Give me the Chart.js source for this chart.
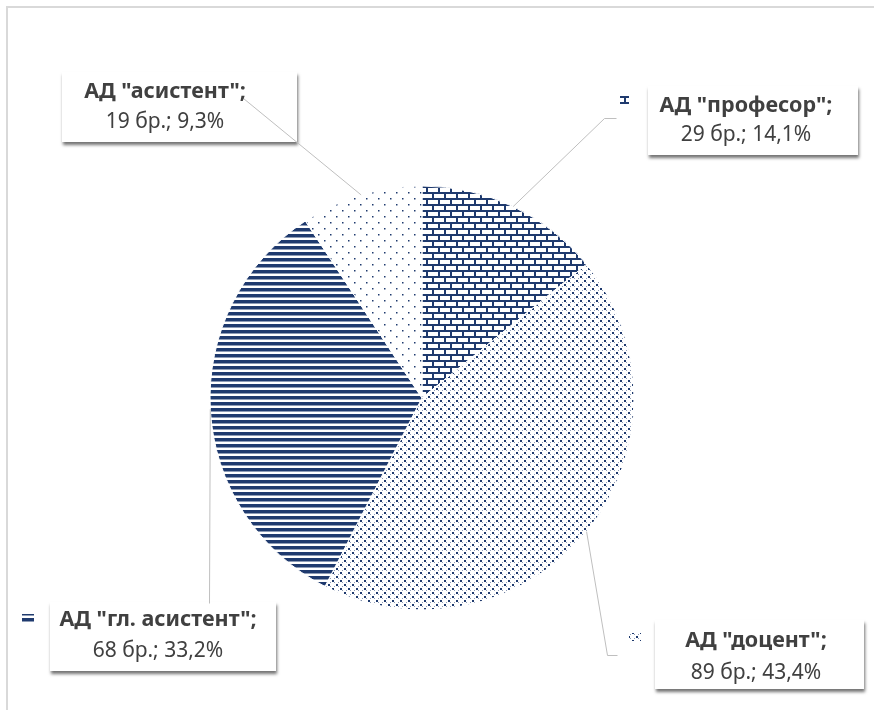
<!DOCTYPE html>
<html>
<head>
<meta charset="utf-8">
<script src="https://cdn.jsdelivr.net/npm/chart.js@4.4.1/dist/chart.umd.min.js"></script>
<style>
  html, body { margin: 0; padding: 0; background: #fff; }
  #wrap { width: 874px; height: 710px; position: relative; }
</style>
</head>
<body>
<div id="wrap"><canvas id="pieChart" width="874" height="710"></canvas></div>
<script>
// Data (clockwise from 12 o'clock)
const categories = ['АД "професор"', 'АД "доцент"', 'АД "гл. асистент"', 'АД "асистент"'];
const counts = [29, 89, 68, 19];
const unitLabel = "бр.";

// Label layout (boxes, text centres, legend keys, leader line ends)
const labelBoxes = [
  { x: 648, y: 86, w: 210, h: 69 },
  { x: 655, y: 620, w: 209, h: 69 },
  { x: 50, y: 602, w: 226, h: 69 },
  { x: 62, y: 72, w: 235, h: 70 },
];
const labelText = [
  { cx: 746, y1: 106, y2: 135 },
  { cx: 756, y1: 641, y2: 673 },
  { cx: 158, y1: 620, y2: 651 },
  { cx: 165, y1: 92, y2: 122 },
];
const labelKeys = [
  [620, 96, 9, 8],
  [629, 633, 12, 8],
  [22, 614, 12, 10],
  [34, 88, 6, 7],
];
const leaderEnds = [
  [[604, 118], [616, 118]],
  [[607, 655], [617, 655]],
  [[209, 603]],
  [[243, 98]],
];

const NAVY = "#1f3a6e";
const TEXT = "#404040";
const ctx = document.getElementById("pieChart").getContext("2d");

// Helper: build a repeating fill pattern from a small tile
function makePattern(w, h, draw) {
  const c = document.createElement("canvas");
  c.width = w;
  c.height = h;
  const g = c.getContext("2d");
  g.fillStyle = "#fff";
  g.fillRect(0, 0, w, h);
  g.fillStyle = NAVY;
  draw(g);
  return ctx.createPattern(c, "repeat");
}

const brick = makePattern(12, 12, (g) => {
  g.fillRect(0, 0, 12, 2);
  g.fillRect(0, 6, 12, 2);
  g.fillRect(0, 0, 2, 6);
  g.fillRect(6, 6, 2, 6);
});
const dottedDiamond = makePattern(8, 8, (g) => {
  g.fillRect(0, 0, 2, 2);
  g.fillRect(4, 4, 2, 2);
  g.globalAlpha = 0.5;
  g.fillRect(2, 2, 1, 1);
  g.fillRect(6, 2, 1, 1);
  g.fillRect(2, 6, 1, 1);
  g.fillRect(6, 6, 1, 1);
});
const stripes = makePattern(6, 6, (g) => {
  g.fillRect(0, 0, 6, 3.5);
});
const sparseDots = makePattern(12, 12, (g) => {
  g.fillRect(0, 0, 1.5, 1.5);
  g.fillRect(6, 6, 1.5, 1.5);
});
const fills = [brick, dottedDiamond, stripes, sparseDots];

const total = counts.reduce((a, b) => a + b, 0);
function pct(v) {
  return ((v / total) * 100).toFixed(1).replace(".", ",") + "%";
}

// Frame + data labels with leader lines
const labelPlugin = {
  id: "labelPlugin",
  beforeDraw(chart) {
    const c = chart.ctx;
    c.save();
    c.fillStyle = "#d9d9d9";
    c.fillRect(6, 6, chart.width - 6, 2);
    c.fillRect(6, 6, 2, chart.height - 6);
    c.restore();
  },
  afterDatasetsDraw(chart) {
    const c = chart.ctx;
    const arcs = chart.getDatasetMeta(0).data;
    c.save();
    // boxes with shadow
    labelBoxes.forEach((b) => {
      c.save();
      c.shadowColor = "rgba(0,0,0,0.55)";
      c.shadowBlur = 3;
      c.shadowOffsetX = 1;
      c.shadowOffsetY = 3;
      c.fillStyle = "#fff";
      c.fillRect(b.x, b.y, b.w, b.h);
      c.restore();
    });
    // leader lines
    c.strokeStyle = "#bfbfbf";
    c.lineWidth = 1;
    arcs.forEach((arc, i) => {
      const mid = (arc.startAngle + arc.endAngle) / 2;
      c.beginPath();
      c.moveTo(arc.x + Math.cos(mid) * arc.outerRadius, arc.y + Math.sin(mid) * arc.outerRadius);
      leaderEnds[i].forEach((p) => c.lineTo(p[0] + 0.5, p[1] + 0.5));
      c.stroke();
    });
    // text
    c.fillStyle = TEXT;
    c.textAlign = "center";
    c.textBaseline = "middle";
    categories.forEach((name, i) => {
      const t = labelText[i];
      c.font = "bold 21.5px 'Noto Sans'";
      c.fillText(name + ";", t.cx, t.y1);
      c.font = "21px 'Noto Sans'";
      c.fillText(counts[i] + " " + unitLabel + "; " + pct(counts[i]), t.cx, t.y2);
    });
    // legend keys
    labelKeys.forEach((k, i) => {
      c.fillStyle = fills[i];
      c.fillRect(k[0], k[1], k[2], k[3]);
    });
    c.restore();
  },
};

const pieChart = new Chart(ctx, {
  type: "pie",
  data: {
    labels: categories,
    datasets: [
      {
        data: counts,
        backgroundColor: fills,
        borderColor: "#fff",
        borderWidth: 1,
      },
    ],
  },
  options: {
    responsive: false,
    animation: false,
    radius: 212,
    layout: { padding: { top: 86, right: 30, left: 0, bottom: 0 } },
    plugins: {
      legend: { display: false },
      tooltip: { enabled: false },
      title: { display: false },
    },
  },
  plugins: [labelPlugin],
});
</script>
</body>
</html>
